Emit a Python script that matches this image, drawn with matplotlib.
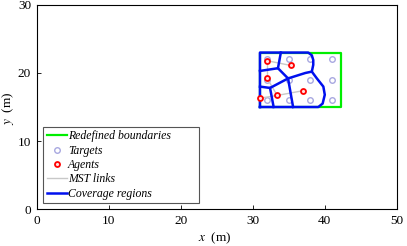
import numpy as np
import matplotlib
matplotlib.use("Agg")
import matplotlib.pyplot as plt

plt.rcParams['font.family'] = ['Liberation Serif', 'DejaVu Serif']
plt.rcParams['mathtext.fontset'] = 'stix'

# Redefined boundary (rectangle)
bound_x = [31.0, 42.2, 42.2, 31.0, 31.0]
bound_y = [15.0, 15.0, 23.0, 23.0, 15.0]

# Targets on a grid
target_x = [32, 35, 38, 41] * 3
target_y = [16] * 4 + [19] * 4 + [22] * 4

# Agents
agent_x = [32.0, 35.3, 32.0, 33.4, 31.0, 37.0]
agent_y = [21.8, 21.1, 19.2, 16.7, 16.3, 17.4]

# MST edges (agent index pairs)
mst_edges = [(0, 1), (0, 2), (2, 3), (3, 4), (3, 5)]

# Coverage region boundaries (polylines)
outer_x = [31.0, 31.0, 37.7, 38.2, 38.4, 38.4, 38.2, 38.9, 39.8, 40.0, 39.7, 39.1, 31.0]
outer_y = [15.0, 23.0, 23.0, 22.6, 21.9, 21.2, 20.2, 19.2, 18.0, 16.8, 15.5, 15.0, 15.0]
inner_lines = [
    ([33.9, 33.5], [23.0, 20.7]),
    ([31.0, 33.5, 34.9], [20.3, 20.7, 19.2]),
    ([34.9, 37.3, 38.2], [19.2, 20.0, 20.2]),
    ([34.9, 32.4, 31.0], [19.2, 17.8, 18.0]),
    ([32.4, 32.9], [17.8, 15.0]),
    ([34.9, 35.6], [19.2, 15.0]),
]

fig = plt.figure(figsize=(4.07, 2.46), dpi=100)
ax = fig.add_axes([0.090, 0.150, 0.885, 0.830])

ax.plot(bound_x, bound_y, color='#00ee00', lw=1.6, label='Redefined boundaries', zorder=2)
ax.plot(target_x, target_y, 'o', ms=4, mfc='none', mec='#a8a8e0', mew=1.0,
        label='Targets', zorder=3)
ax.plot(agent_x, agent_y, 'o', ms=3.6, mfc='#ffe0e0', mec='red', mew=1.3,
        label='Agents', zorder=5)
for k, (i, j) in enumerate(mst_edges):
    ax.plot([agent_x[i], agent_x[j]], [agent_y[i], agent_y[j]], color='#c8c8c8',
            lw=1.0, label='MST links' if k == 0 else None, zorder=4)
ax.plot(outer_x, outer_y, color='#0010ee', lw=1.8, label='Coverage regions', zorder=4)
for lx, ly in inner_lines:
    ax.plot(lx, ly, color='#0010ee', lw=1.8, zorder=4)

ax.set_xlim(0, 50)
ax.set_ylim(0, 30)
ax.set_xticks([0, 10, 20, 30, 40, 50])
ax.set_yticks([0, 10, 20, 30])
ax.tick_params(direction='in', labelsize=9.5, length=3, width=0.6, pad=4)
for s in ax.spines.values():
    s.set_linewidth(0.8)
ax.set_xlabel(r'$x$  (m)', fontsize=9.5)
ax.set_ylabel(r'$y$  (m)', fontsize=9.5)
ax.xaxis.set_label_coords(0.495, -0.105)
ax.yaxis.set_label_coords(-0.058, 0.495)

leg = ax.legend(loc='lower left', bbox_to_anchor=(0.018, 0.028, 0.433, 0.36),
                mode='expand', prop={'style': 'italic', 'size': 8.5},
                handlelength=1.7, handletextpad=0.1, labelspacing=0.2,
                borderpad=0.3, borderaxespad=0.0, fancybox=False, edgecolor='#555555',
                framealpha=1)
leg.get_frame().set_linewidth(0.8)

fig.savefig('out.png', dpi=100)
